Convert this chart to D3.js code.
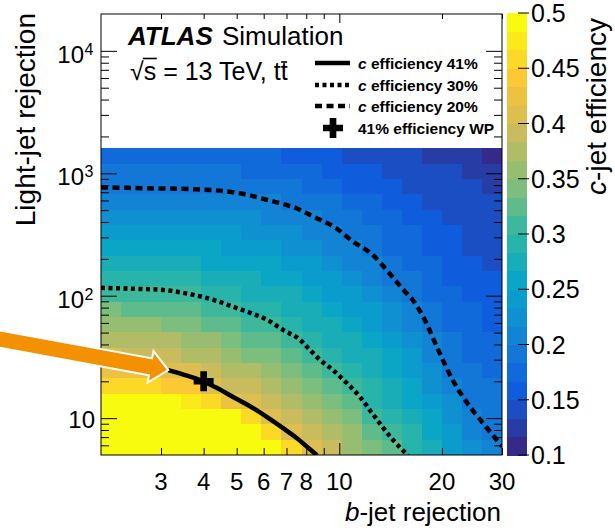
<!DOCTYPE html>
<html>
<head>
<meta charset="utf-8">
<script src="https://cdn.jsdelivr.net/npm/d3@7"></script>
<style>
  body { margin: 0; background: #fff; }
  svg { display: block; }
  text { font-family: "Liberation Sans", Arial, Helvetica, sans-serif; fill: #000; }
</style>
</head>
<body>
<svg id="chart" width="615" height="530"></svg>
<script>
// ---- data -------------------------------------------------------------
// b-jet rejection axis ticks and labels
const bTicks = [3, 4, 5, 6, 7, 8, 9, 10, 20, 30];
const bMajor = [10];
const bLabels = [3, 4, 5, 6, 7, 8, 10, 20, 30];
// light-jet rejection decades
const lMajor = [10, 100, 1000, 10000];
// c-jet efficiency colour-bar ticks
const effTicks = [0.1, 0.15, 0.2, 0.25, 0.3, 0.35, 0.4, 0.45, 0.5];

// c-jet efficiency map: 20 rows (light-jet rejection 1600 -> 5, top row first)
// by 20 columns (b-jet rejection 2 -> 30), log-spaced bins
const effRows = [
  [.178,.178,.177,.176,.175,.174,.172,.170,.167,.163,.158,.153,.148,.143,.138,.134,.132,.130,.127,.115],
  [.189,.189,.188,.187,.186,.185,.184,.182,.178,.174,.169,.163,.157,.151,.145,.141,.137,.135,.132,.128],
  [.199,.199,.199,.198,.198,.197,.195,.193,.189,.185,.179,.173,.166,.160,.153,.147,.141,.137,.136,.131],
  [.214,.214,.214,.213,.212,.210,.208,.205,.201,.196,.190,.184,.176,.168,.160,.154,.146,.141,.138,.134],
  [.230,.230,.229,.228,.227,.224,.221,.218,.213,.209,.201,.194,.185,.177,.168,.161,.153,.145,.140,.136],
  [.245,.245,.244,.243,.241,.238,.234,.230,.225,.221,.212,.204,.194,.185,.175,.169,.159,.150,.144,.138],
  [.261,.260,.259,.258,.256,.251,.247,.243,.238,.232,.224,.215,.204,.193,.183,.176,.165,.155,.149,.143],
  [.277,.276,.275,.274,.271,.266,.261,.256,.250,.245,.236,.227,.216,.203,.190,.183,.171,.161,.154,.148],
  [.292,.291,.290,.288,.285,.280,.274,.269,.262,.257,.248,.238,.226,.213,.198,.190,.177,.166,.158,.152],
  [.310,.309,.307,.304,.300,.294,.287,.281,.274,.268,.259,.249,.237,.224,.208,.197,.183,.171,.163,.157],
  [.334,.332,.330,.326,.321,.312,.301,.294,.287,.280,.271,.261,.248,.235,.220,.205,.190,.177,.168,.162],
  [.356,.354,.351,.347,.341,.331,.320,.310,.300,.292,.283,.272,.259,.245,.230,.215,.196,.182,.173,.166],
  [.378,.375,.373,.368,.361,.350,.339,.328,.318,.306,.294,.283,.270,.256,.241,.225,.203,.187,.178,.171],
  [.401,.398,.396,.390,.382,.371,.359,.348,.336,.324,.309,.295,.281,.267,.252,.235,.214,.193,.183,.176],
  [.428,.424,.421,.412,.402,.390,.378,.367,.354,.341,.325,.306,.291,.278,.262,.245,.223,.198,.188,.181],
  [.457,.455,.450,.449,.435,.409,.397,.385,.372,.358,.341,.322,.302,.288,.273,.255,.233,.207,.192,.185],
  [.490,.490,.490,.485,.477,.457,.428,.404,.390,.374,.357,.338,.318,.298,.283,.264,.243,.217,.198,.190],
  [.500,.500,.500,.500,.495,.490,.485,.451,.408,.392,.375,.355,.334,.315,.294,.275,.253,.228,.206,.195],
  [.500,.500,.500,.500,.500,.500,.495,.490,.453,.409,.391,.371,.350,.330,.308,.285,.263,.238,.216,.199],
  [.500,.500,.500,.500,.500,.500,.500,.500,.485,.455,.407,.387,.365,.346,.324,.295,.272,.248,.226,.209]
];

// iso-efficiency curves: [b-jet rejection, light-jet rejection]
const eff41 = [[3.15,24.7],[3.53,22.5],[3.90,20.5],[4.38,17.6],[4.88,14.9],[5.47,12.5],
               [6.14,10.2],[6.84,8.28],[7.51,6.86],[8.20,5.57],[8.60,4.97]];
const eff30 = [[2.00,116],[2.48,114],[2.98,112],[3.58,104],[4.26,92.7],[4.88,81.3],[5.47,72.6],
               [6.14,63.6],[6.84,52.6],[7.67,43.6],[8.20,36.1],[8.78,29.9],[9.58,24.7],[10.5,19.4],
               [11.5,14.9],[12.3,11.6],[13.4,8.44],[14.4,6.60],[15.9,4.97]];
const eff20 = [[2.00,768],[2.78,754],[3.82,740],[5.11,686],[6.39,589],[7.51,516],[8.49,436],
               [9.71,361],[10.97,277],[12.5,217],[13.9,157],[15.4,112],[16.4,92.7],[17.8,63.6],
               [19.5,36.1],[21.5,20.5],[24.2,12.3],[26.4,9.1],[29.0,6.6],[30.0,5.9]];
// working point
const workingPoint = [4, 20];

// ---- scales -----------------------------------------------------------
const svg = d3.select("#chart");
const X0 = 101, X1 = 502, Y0 = 455, Y1 = 14;
const x = d3.scaleLog().domain([2, 30]).range([X0, X1]);
const y = d3.scaleLog().domain([5, 20000]).range([Y0, Y1]);
const z = d3.scaleLinear().domain([0.1, 0.5]).range([455, 13]);

// ROOT kBird palette
const birdStops = [0, .125, .25, .375, .5, .625, .75, .875, 1];
const birdR = [.2082, .0592, .0780, .0232, .1802, .5301, .8186, .9956, .9764];
const birdG = [.1664, .3599, .5041, .6419, .7178, .7492, .7328, .7862, .9832];
const birdB = [.5293, .8684, .8385, .7914, .6425, .4662, .3499, .1968, .0539];
const sr = d3.scaleLinear().domain(birdStops).range(birdR);
const sg = d3.scaleLinear().domain(birdStops).range(birdG);
const sb = d3.scaleLinear().domain(birdStops).range(birdB);
const bird = t => d3.rgb(sr(t) * 255, sg(t) * 255, sb(t) * 255).formatHex();
const nLevels = 24;
const levelOf = v => Math.max(0, Math.min(nLevels - 1, Math.floor((v - 0.1) / 0.4 * nLevels + 1e-9)));
const levelColor = k => bird(k / (nLevels - 1));

// bin edges of the efficiency map
const nCols = effRows[0].length, nRows = effRows.length;
const bEdges = d3.range(nCols + 1).map(i => 2 * Math.pow(15, i / nCols));
const lEdges = d3.range(nRows + 1).map(i => 5 * Math.pow(320, i / nRows));

// ---- clip -------------------------------------------------------------
svg.append("defs").append("clipPath").attr("id", "plotClip")
  .append("rect").attr("x", X0).attr("y", Y1).attr("width", X1 - X0).attr("height", Y0 - Y1);

// ---- heat map ---------------------------------------------------------
const cells = [];
effRows.forEach((row, r) => row.forEach((v, j) => cells.push({ r, j, v })));
svg.append("g").attr("clip-path", "url(#plotClip)").selectAll("rect").data(cells).join("rect")
  .attr("x", d => x(bEdges[d.j]))
  .attr("width", d => x(bEdges[d.j + 1]) - x(bEdges[d.j]) + 0.6)
  .attr("y", d => y(lEdges[nRows - d.r]))
  .attr("height", d => y(lEdges[nRows - d.r - 1]) - y(lEdges[nRows - d.r]) + 0.6)
  .attr("fill", d => levelColor(levelOf(d.v)))
  .attr("shape-rendering", "crispEdges");

// ---- iso-efficiency curves -------------------------------------------
const line = d3.line().x(d => x(d[0])).y(d => y(d[1])).curve(d3.curveMonotoneX);
const curves = svg.append("g").attr("clip-path", "url(#plotClip)")
  .attr("fill", "none").attr("stroke", "#000").attr("stroke-width", 4.5);
curves.append("path").attr("d", line(eff20)).attr("stroke-dasharray", "7 4.5");
curves.append("path").attr("d", line(eff30)).attr("stroke-dasharray", "4 3.5");
curves.append("path").attr("d", line(eff41));

const cross = d3.symbol(d3.symbolCross, 222);
svg.append("path").attr("d", cross())
  .attr("transform", `translate(${x(workingPoint[0])},${y(workingPoint[1])})`).attr("fill", "#000");

// ---- axes ---------------------------------------------------------------
const yMinor = [];
[1, 10, 100, 1000, 10000].forEach(d => d3.range(2, 10).forEach(m => {
  const v = d * m; if (v > 5 && v < 20000) yMinor.push(v);
}));
const bMinor = bTicks.filter(v => !bMajor.includes(v));

function ticks(axis, tx, ty) {
  const g = svg.append("g").attr("transform", `translate(${tx},${ty})`).call(axis);
  g.select(".domain").remove();
  g.selectAll("text").remove();
  g.selectAll("line").attr("stroke", "#000").attr("stroke-width", 1);
  return g;
}
ticks(d3.axisBottom(x).tickValues(bMinor).tickSize(-7).tickFormat(""), 0, Y0);
ticks(d3.axisBottom(x).tickValues(bMajor).tickSize(-12).tickFormat(""), 0, Y0);
ticks(d3.axisTop(x).tickValues(bMinor).tickSize(-5).tickFormat(""), 0, Y1);
ticks(d3.axisTop(x).tickValues(bMajor).tickSize(-9).tickFormat(""), 0, Y1);
ticks(d3.axisLeft(y).tickValues(yMinor).tickSize(-8).tickFormat(""), X0, 0);
ticks(d3.axisLeft(y).tickValues(lMajor).tickSize(-16).tickFormat(""), X0, 0);
ticks(d3.axisRight(y).tickValues(yMinor).tickSize(-8).tickFormat(""), X1, 0);
ticks(d3.axisRight(y).tickValues(lMajor).tickSize(-16).tickFormat(""), X1, 0);

svg.append("rect").attr("x", X0).attr("y", Y1).attr("width", X1 - X0).attr("height", Y0 - Y1)
  .attr("fill", "none").attr("stroke", "#000").attr("stroke-width", 1);

// x tick labels
svg.append("g").selectAll("text").data(bLabels).join("text")
  .attr("x", d => x(d)).attr("y", 490).attr("text-anchor", "middle")
  .attr("font-size", 24).text(d => d);

// y tick labels (powers of ten)
const yl = svg.append("g");
lMajor.forEach(v => {
  const p = Math.round(Math.log10(v));
  if (p === 1) {
    yl.append("text").attr("x", 95).attr("y", y(v) + 10).attr("text-anchor", "end")
      .attr("font-size", 24).text("10");
  } else {
    yl.append("text").attr("x", 84).attr("y", y(v) + 12).attr("text-anchor", "end")
      .attr("font-size", 24).text("10");
    yl.append("text").attr("x", 84.5).attr("y", y(v) + 4)
      .attr("font-size", 16).text(p);
  }
});

// axis titles
svg.append("text").attr("transform", "translate(35,13) rotate(-90)")
  .attr("text-anchor", "end").attr("font-size", 28).text("Light-jet rejection");
const xt = svg.append("text").attr("x", 501).attr("y", 521).attr("text-anchor", "end").attr("font-size", 26);
xt.append("tspan").attr("font-style", "italic").text("b");
xt.append("tspan").text("-jet rejection");

// ---- colour bar -------------------------------------------------------
const levels = d3.range(nLevels);
const step = 0.4 / nLevels;
svg.append("g").selectAll("rect").data(levels).join("rect")
  .attr("x", 507).attr("width", 20)
  .attr("y", k => z(0.1 + (k + 1) * step))
  .attr("height", k => z(0.1 + k * step) - z(0.1 + (k + 1) * step) + 0.5)
  .attr("fill", k => levelColor(k))
  .attr("shape-rendering", "crispEdges");
const cb = svg.append("g");
cb.selectAll("line").data(effTicks).join("line")
  .attr("x1", 518).attr("x2", 529).attr("y1", d => z(d)).attr("y2", d => z(d))
  .attr("stroke", "#000").attr("stroke-width", 1);
cb.selectAll("text").data(effTicks).join("text")
  .attr("x", 531).attr("y", d => z(d) + 9).attr("font-size", 25)
  .text(d => d3.format("")(d));
const ct = svg.append("text").attr("transform", "translate(606,18) rotate(-90)")
  .attr("text-anchor", "end").attr("font-size", 28);
ct.append("tspan").attr("font-style", "italic").text("c");
ct.append("tspan").text("-jet efficiency");

// ---- labels ---------------------------------------------------------------
svg.append("text").attr("x", 128).attr("y", 45).attr("font-size", 26)
  .attr("font-weight", "bold").attr("font-style", "italic").text("ATLAS");
svg.append("text").attr("x", 222).attr("y", 45).attr("font-size", 26).text("Simulation");

const energy = svg.append("text").attr("x", 130).attr("y", 80).attr("font-size", 25)
  .text("\u221As = 13 TeV, tt");
{
  const node = energy.node();
  const n = node.getNumberOfChars();
  const e0 = node.getExtentOfChar(0), e1 = node.getExtentOfChar(1), eT = node.getExtentOfChar(n - 1);
  svg.append("line").attr("x1", e0.x + e0.width - 1).attr("x2", e1.x + e1.width + 0.5)
    .attr("y1", e0.y + 1.5).attr("y2", e0.y + 1.5).attr("stroke", "#000").attr("stroke-width", 1.6);
  svg.append("line").attr("x1", eT.x + 0.5).attr("x2", eT.x + eT.width - 0.5)
    .attr("y1", 62).attr("y2", 62).attr("stroke", "#000").attr("stroke-width", 1.6);
}

// ---- legend -----------------------------------------------------------
const legendItems = [
  { label: " efficiency 41%", dash: null, italic: "c" },
  { label: " efficiency 30%", dash: "4 3.5", italic: "c" },
  { label: " efficiency 20%", dash: "7 4.5", italic: "c" },
  { label: "41% efficiency WP", marker: true, italic: "" }
];
const legendRowY = [63, 85, 106, 128];
legendItems.forEach((it, i) => {
  const cy = legendRowY[i];
  if (it.marker) {
    svg.append("path").attr("d", cross()).attr("transform", `translate(333,${cy})`).attr("fill", "#000");
  } else {
    svg.append("line").attr("x1", 315).attr("x2", 350).attr("y1", cy).attr("y2", cy)
      .attr("stroke", "#000").attr("stroke-width", 4.5)
      .attr("stroke-dasharray", it.dash);
  }
  const t = svg.append("text").attr("x", 358).attr("y", cy + 5.5)
    .attr("font-size", 15.5).attr("font-weight", "bold");
  if (it.italic) t.append("tspan").attr("font-style", "italic").text(it.italic);
  t.append("tspan").text(it.label);
});

// ---- arrow pointing at the start of the 41% curve ---------------------------------
{
  const tip = [x(eff41[0][0]), y(eff41[0][1])];
  const ang = 10.4 * Math.PI / 180;
  const d = [Math.cos(ang), Math.sin(ang)], n = [-Math.sin(ang), Math.cos(ang)];
  const headLen = 18, headHalf = 16, shaftHalf = 8.5;
  const base = [tip[0] - headLen * d[0], tip[1] - headLen * d[1]];
  const L = (base[0] + 4) / d[0];
  const tail = [base[0] - L * d[0], base[1] - L * d[1]];
  const p = (c, k) => [c[0] + k * n[0], c[1] + k * n[1]];
  const pts = [p(tail, -shaftHalf), p(base, -shaftHalf), p(base, -headHalf), tip,
               p(base, headHalf), p(base, shaftHalf), p(tail, shaftHalf)];
  svg.append("path").attr("d", "M" + pts.map(q => q.join(",")).join("L") + "Z")
    .attr("fill", "#f39100").attr("stroke", "#fff").attr("stroke-width", 2)
    .attr("stroke-linejoin", "miter");
}
</script>
</body>
</html>
